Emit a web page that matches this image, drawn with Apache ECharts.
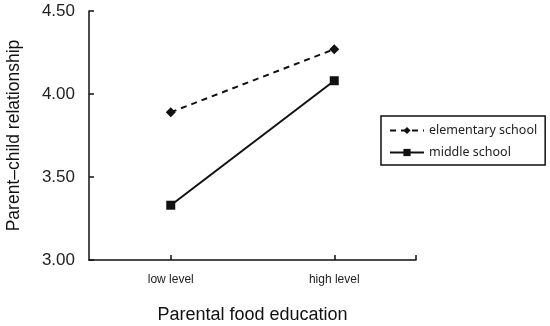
<!DOCTYPE html>
<html><head><meta charset="utf-8">
<script src="https://cdn.jsdelivr.net/npm/echarts@6/dist/echarts.min.js"></script>
<style>html,body{margin:0;padding:0;background:#fff}#c{width:550px;height:326px}</style>
</head><body><div id="c"></div>
<script>
var categories = ['low level', 'high level'];
var elementary = [3.89, 4.27];
var middle = [3.33, 4.08];
var yTicks = [3.0, 3.5, 4.0, 4.5];
var seriesNames = ['elementary school', 'middle school'];

// category i placed at position 2*i+1 on a 0..4 axis (centre of each band)
function pos(i){ return 2*i+1; }
function toPairs(arr){ return arr.map(function(v,i){ return [pos(i), v]; }); }

var chart = echarts.init(document.getElementById('c'));
var font = 'Liberation Sans, Arial, sans-serif';
chart.setOption({
  animation: false,
  grid: {left: 89, right: 134, top: 11, bottom: 66, containLabel: false, outerBoundsMode: 'none'},
  xAxis: {
    type: 'value', min: 0, max: 4,
    name: 'Parental food education', nameLocation: 'middle', nameGap: 46,
    nameTextStyle: {fontFamily: font, fontSize: 18, color: '#111'},
    axisLine: {show: true, lineStyle: {color: '#111', width: 1.5}},
    axisTick: {show: true, inside: true, length: 5, lineStyle: {color: '#111', width: 1.5},
      customValues: [pos(0), pos(1), 4]},
    axisLabel: {fontFamily: font, fontSize: 12, color: '#222', margin: 14,
      customValues: [pos(0), pos(1)],
      formatter: function(v){ return categories[(v-1)/2]; }},
    splitLine: {show: false}
  },
  yAxis: {
    type: 'value', min: yTicks[0], max: yTicks[yTicks.length-1], interval: 0.5,
    name: 'Parent\u2013child relationship', nameLocation: 'middle', nameGap: 66, nameRotate: 90,
    nameTextStyle: {fontFamily: font, fontSize: 17.5, color: '#111'},
    axisLine: {show: true, lineStyle: {color: '#111', width: 1.5}},
    axisTick: {show: true, inside: true, length: 5, lineStyle: {color: '#111', width: 1.5}},
    axisLabel: {fontFamily: font, fontSize: 17, color: '#222', margin: 14,
      formatter: function(v){ return v.toFixed(2); }},
    splitLine: {show: false}
  },
  legend: {
    orient: 'vertical', left: 381, top: 116,
    borderColor: '#111', borderWidth: 1.5, padding: [8, 8, 6, 8],
    itemWidth: 34, itemHeight: 9, itemGap: 9,
    textStyle: {fontFamily: 'Noto Sans, sans-serif', fontSize: 12.5, color: '#222'},
    data: seriesNames
  },
  series: [
    {name: seriesNames[0], type: 'line', data: toPairs(elementary),
      symbol: 'diamond', symbolSize: 10,
      lineStyle: {color: '#111', width: 2, type: [6, 5]},
      itemStyle: {color: '#111'}},
    {name: seriesNames[1], type: 'line', data: toPairs(middle),
      symbol: 'rect', symbolSize: 9,
      lineStyle: {color: '#111', width: 2, type: 'solid'},
      itemStyle: {color: '#111'}}
  ]
});
</script></body></html>
